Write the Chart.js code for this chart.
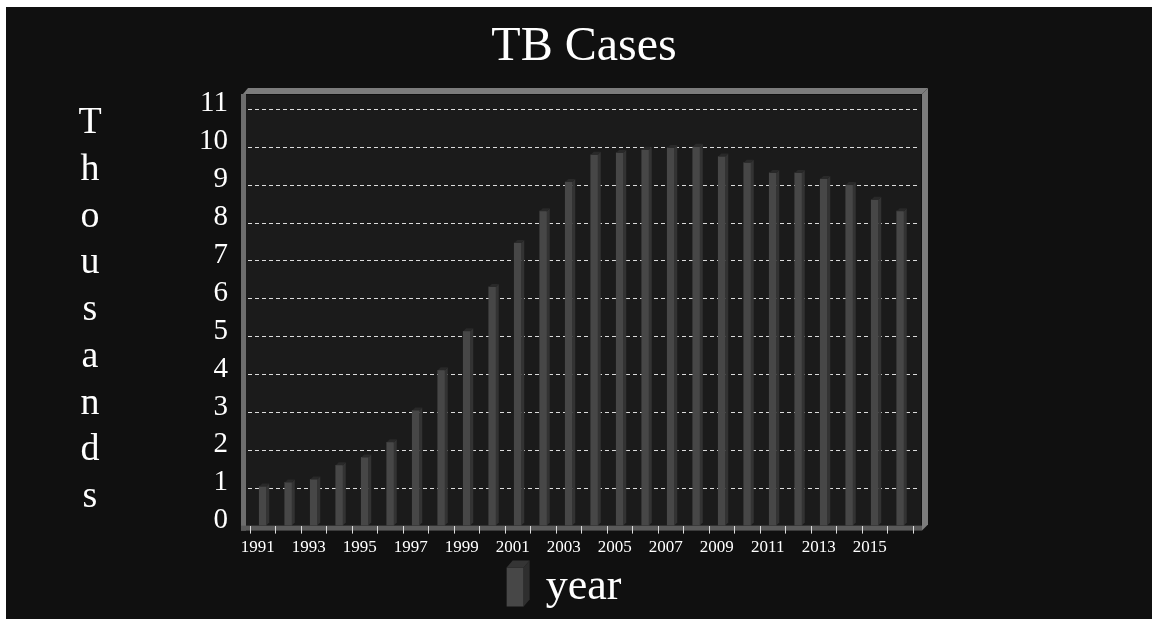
<!DOCTYPE html>
<html>
<head>
<meta charset="utf-8">
<title>TB Cases</title>
<script src="https://cdn.jsdelivr.net/npm/chart.js@4.4.0/dist/chart.umd.min.js"></script>
<style>
  html, body { margin: 0; padding: 0; background: #fff; }
  canvas { display: block; }
</style>
</head>
<body>
<canvas id="tbChart" width="1152" height="619"></canvas>
<script>
// ---- Data (thousands of cases) ----
const YEARS = ['1991','1992','1993','1994','1995','1996','1997','1998','1999','2000',
               '2001','2002','2003','2004','2005','2006','2007','2008','2009','2010',
               '2011','2012','2013','2014','2015','2016'];
const CASES = [1.03, 1.14, 1.22, 1.59, 1.80, 2.20, 3.04, 4.10, 5.13, 6.30,
               7.46, 8.30, 9.07, 9.79, 9.84, 9.92, 9.97, 10.0, 9.74, 9.58,
               9.31, 9.31, 9.15, 8.99, 8.60, 8.30];
const Y_TICKS = [0, 1, 2, 3, 4, 5, 6, 7, 8, 9, 10, 11];
const Y_TITLE = 'Thousands';

const SERIF = "'Liberation Serif', 'Times New Roman', serif";

// ---- 3D frame, background and dashed grid ----
const framePlugin = {
  id: 'frame',
  beforeDraw(chart) {
    const { ctx, chartArea: a, scales: { y } } = chart;
    ctx.save();
    ctx.fillStyle = '#fff';
    ctx.fillRect(0, 0, chart.width, chart.height);
    ctx.fillStyle = '#101010';
    ctx.fillRect(6, 7, chart.width - 6, chart.height - 7);

    const L = a.left - 4, R = a.right + 8, T = a.top - 1, B = a.bottom;
    // back wall
    ctx.fillStyle = '#1b1b1b';
    ctx.fillRect(L, T, R - L, B - T);
    // top and right walls
    ctx.fillStyle = '#7c7c7c';
    ctx.beginPath();
    ctx.moveTo(L - 3, T - 1); ctx.lineTo(L + 2, T - 7); ctx.lineTo(R + 7, T - 7); ctx.lineTo(R + 1, T - 1);
    ctx.closePath(); ctx.fill();
    ctx.beginPath();
    ctx.moveTo(R + 1, T - 1); ctx.lineTo(R + 7, T - 7); ctx.lineTo(R + 7, B - 1); ctx.lineTo(R + 1, B + 5);
    ctx.closePath(); ctx.fill();
    // left wall and floor
    ctx.fillStyle = '#6e6e6e';
    ctx.fillRect(L - 5, T - 1, 5, B - T + 6);
    ctx.fillStyle = '#5a5a5a';
    ctx.fillRect(L - 5, B, R - L + 6, 5);

    // dashed grid lines from the y scale
    ctx.strokeStyle = '#dcdcdc';
    ctx.lineWidth = 1;
    ctx.setLineDash([4, 3]);
    y.ticks.forEach(t => {
      if (t.value === 0) return;
      const py = Math.round(y.getPixelForValue(t.value)) + 0.5;
      ctx.beginPath();
      ctx.moveTo(L + 2, py);
      ctx.lineTo(R - 2, py);
      ctx.stroke();
    });
    ctx.restore();
  },
  afterDatasetsDraw(chart) {
    const { ctx } = chart;
    const meta = chart.getDatasetMeta(0);
    const d = 3;
    ctx.save();
    meta.data.forEach(bar => {
      const { x, y, base, width } = bar.getProps(['x', 'y', 'base', 'width'], true);
      const l = x - width / 2, r = x + width / 2;
      ctx.fillStyle = '#333';
      ctx.beginPath();
      ctx.moveTo(r, y); ctx.lineTo(r + d, y - d); ctx.lineTo(r + d, base - d); ctx.lineTo(r, base);
      ctx.closePath(); ctx.fill();
      ctx.fillStyle = '#292929';
      ctx.beginPath();
      ctx.moveTo(l, y); ctx.lineTo(l + d, y - d); ctx.lineTo(r + d, y - d); ctx.lineTo(r, y);
      ctx.closePath(); ctx.fill();
    });

    // stacked y axis title
    ctx.fillStyle = '#fff';
    ctx.font = `38px ${SERIF}`;
    ctx.textAlign = 'center';
    ctx.textBaseline = 'alphabetic';
    [...Y_TITLE].forEach((ch, i) => ctx.fillText(ch, 90, 133 + i * 46.75));

    // legend box side and top
    const lg = chart.legend;
    if (lg && lg.legendHitBoxes && lg.legendHitBoxes[0]) {
      const hb = lg.legendHitBoxes[0];
      const bw = 17, bh = 39;
      const bx = hb.left, by = hb.top + (hb.height - bh) / 2;
      ctx.fillStyle = '#2e2e2e';
      ctx.beginPath();
      ctx.moveTo(bx + bw, by); ctx.lineTo(bx + bw + 6, by - 7); ctx.lineTo(bx + bw + 6, by + bh - 7); ctx.lineTo(bx + bw, by + bh);
      ctx.closePath(); ctx.fill();
      ctx.fillStyle = '#353535';
      ctx.beginPath();
      ctx.moveTo(bx, by); ctx.lineTo(bx + 6, by - 7); ctx.lineTo(bx + bw + 6, by - 7); ctx.lineTo(bx + bw, by);
      ctx.closePath(); ctx.fill();
    }
    ctx.restore();
  },
  afterLayout(chart) {
    // title sits over the plot, legend a little left of centre
    if (chart.titleBlock) { chart.titleBlock.left += 8; chart.titleBlock.right += 8; }
    if (chart.legend) { chart.legend.left -= 12; chart.legend.right -= 12; }
  }
};

new Chart(document.getElementById('tbChart'), {
  type: 'bar',
  data: {
    labels: YEARS,
    datasets: [{
      label: 'year',
      data: CASES,
      backgroundColor: '#474747',
      borderWidth: 0,
      barThickness: 7
    }]
  },
  options: {
    responsive: false,
    animation: false,
    layout: { padding: { left: 0, right: 0, top: 0, bottom: 0 } },
    plugins: {
      title: {
        display: true,
        text: 'TB Cases',
        color: '#fff',
        font: { family: SERIF, size: 48, weight: 'normal', lineHeight: 1 },
        padding: { top: 23, bottom: 25 }
      },
      legend: {
        position: 'bottom',
        labels: {
          color: '#fff',
          font: { family: SERIF, size: 44, lineHeight: 1 },
          boxWidth: 17,
          boxHeight: 39,
          padding: 3
        }
      },
      tooltip: { enabled: false }
    },
    scales: {
      x: {
        offset: true,
        grid: { display: true, offset: true, drawOnChartArea: false, drawTicks: true, tickLength: 8, color: '#ddd' },
        border: { display: false },
        ticks: {
          color: '#fff',
          font: { family: SERIF, size: 17 },
          autoSkip: false,
          maxRotation: 0,
          minRotation: 0,
          padding: 4,
          labelOffset: -5,
          callback: (v, i) => (i % 2 === 0 ? YEARS[i] : '')
        }
      },
      y: {
        min: 0,
        max: 11.34,
        afterFit: s => { s.width = 250; },
        afterBuildTicks: s => { s.ticks = Y_TICKS.map(v => ({ value: v })); },
        grid: { display: false, drawTicks: false },
        border: { display: false },
        ticks: {
          color: '#fff',
          font: { family: SERIF, size: 29 },
          padding: 22,
          labelOffset: -5
        }
      },
      y2: {
        type: 'linear',
        position: 'right',
        display: true,
        afterFit: s => { s.width = 239; },
        grid: { display: false },
        border: { display: false },
        ticks: { display: false }
      }
    }
  },
  plugins: [framePlugin]
});
</script>
</body>
</html>
